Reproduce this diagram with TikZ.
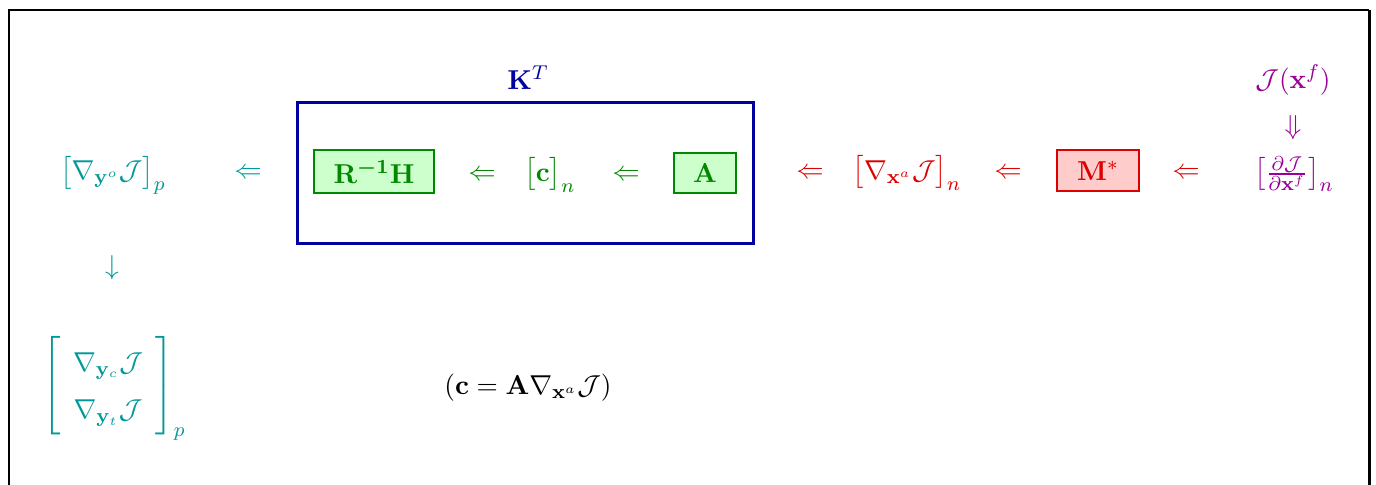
\documentclass[tikz,border=0pt]{standalone}
\usepackage{amsmath,amssymb}
\definecolor{cteal}{RGB}{0,153,153}
\definecolor{cgreen}{RGB}{0,136,0}
\definecolor{cred}{RGB}{221,0,0}
\definecolor{cpurple}{RGB}{153,0,153}
\definecolor{cnavy}{RGB}{0,0,160}
\definecolor{lgreen}{RGB}{204,255,204}
\definecolor{lred}{RGB}{255,204,204}
\begin{document}
\begin{tikzpicture}[x=0.4pt,y=-0.4pt,
  lbl/.style={inner sep=0pt,font=\fontsize{11}{13}\selectfont},
  gbox/.style={draw=cgreen,fill=lgreen,line width=0.5pt,inner sep=0pt},
  rbox/.style={draw=cred,fill=lred,line width=0.5pt,inner sep=0pt}]
\useasboundingbox (0,0) rectangle (1376,485);
% frame
\draw[line width=0.8pt] (9,500) -- (9,10) -- (1369,10);
\draw[line width=1.2pt] (1369,10) -- (1369,500);
% K^T group
\node[lbl,text=cnavy] (kt) at (528,78) {$\mathbf{K}^T$};
\node[draw=cnavy,line width=1.2pt,minimum width=456*0.4pt,minimum height=141*0.4pt,inner sep=0pt] (kbox) at (525,173.5) {};
\node[gbox,minimum width=120*0.4pt,minimum height=43*0.4pt] (rh) at (374,171.5) {};
\node[lbl,text=cgreen] (rhl) at (rh) {$\mathbf{R}^{\boldsymbol{-1}}\mathbf{H}$};
\node[lbl,text=cgreen] (a1) at (482,175) {$\Leftarrow$};
\node[lbl,text=cgreen] (cn) at (550,175) {$\big[\mathbf{c}\big]_n$};
\node[lbl,text=cgreen] (a2) at (626,175) {$\Leftarrow$};
\node[gbox,minimum width=62*0.4pt,minimum height=40*0.4pt] (ab) at (705,173) {};
\node[lbl,text=cgreen] (al) at (ab) {$\mathbf{A}$};
% red part
\node[lbl,text=cred] (a3) at (810,173) {$\Leftarrow$};
\node[lbl,text=cred] (gx) at (907,173) {$\big[\nabla_{\mathbf{x}^a}\mathcal{J}\big]_n$};
\node[lbl,text=cred] (a4) at (1008,173) {$\Leftarrow$};
\node[rbox,minimum width=82*0.4pt,minimum height=41*0.4pt] (mb) at (1098,170.5) {};
\node[lbl,text=cred] (ml) at (mb) {$\mathbf{M}^*$};
\node[lbl,text=cred] (a5) at (1186,173) {$\Leftarrow$};
% purple part
\node[lbl,text=cpurple] (dj) at (1294,174) {$\big[\frac{\partial\mathcal{J}}{\partial\mathbf{x}^f}\big]_n$};
\node[lbl,text=cpurple] (a6) at (1293,128) {$\Downarrow$};
\node[lbl,text=cpurple] (jx) at (1293,80) {$\mathcal{J}(\mathbf{x}^f)$};
% teal part
\node[lbl,text=cteal] (gy) at (113,175) {$\big[\nabla_{\mathbf{y}^o}\mathcal{J}\big]_p$};
\node[lbl,text=cteal] (a7) at (248,173) {$\Leftarrow$};
\node[lbl,text=cteal] (a8) at (112,268) {$\downarrow$};
\node[lbl,text=cteal] (mat) at (114,388) {\renewcommand\arraystretch{1.45}$\left[\begin{array}{c}\nabla_{\mathbf{y}_c}\mathcal{J}\\ \nabla_{\mathbf{y}_t}\mathcal{J}\end{array}\right]_p$};
% equation
\node[lbl] (eq) at (528,388) {$(\mathbf{c}=\mathbf{A}\nabla_{\mathbf{x}^a}\mathcal{J})$};
\end{tikzpicture}
\end{document}
